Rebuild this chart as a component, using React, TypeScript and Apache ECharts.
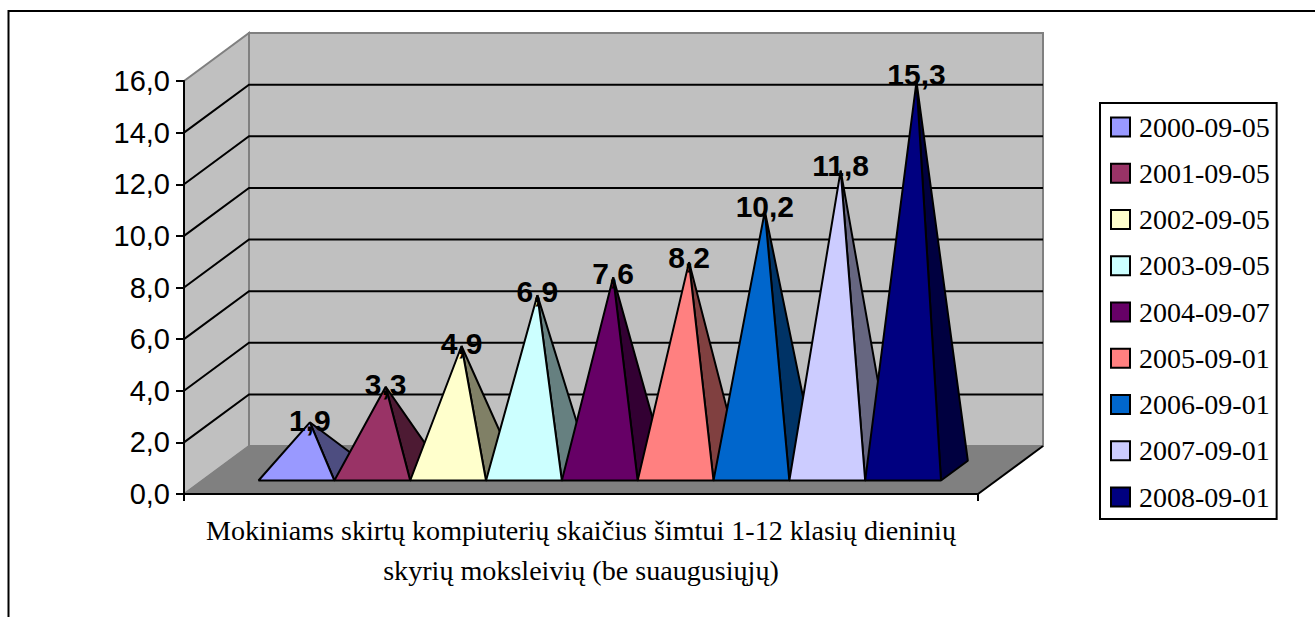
import React, { useEffect, useRef } from "react";
import * as echarts from "echarts";

const categoryLabel =
  "Mokiniams skirtų kompiuterių skaičius šimtui 1-12 klasių dieninių\nskyrių moksleivių (be suaugusiųjų)";
const dates = [
  "2000-09-05", "2001-09-05", "2002-09-05", "2003-09-05", "2004-09-07",
  "2005-09-01", "2006-09-01", "2007-09-01", "2008-09-01",
];
const values = [1.9, 3.3, 4.9, 6.9, 7.6, 8.2, 10.2, 11.8, 15.3];
const colors = [
  "#9999FF", "#993366", "#FFFFCC", "#CCFFFF", "#660066",
  "#FF8080", "#0066CC", "#CCCCFF", "#000080",
];
const sideColors = [
  "#4D4D80", "#4D1A33", "#808066", "#668080", "#330033",
  "#804040", "#003366", "#666680", "#000040",
];
const yTicks = [0, 2, 4, 6, 8, 10, 12, 14, 16];

const DX = 65;
const DY = -48;
const SERIF = "Liberation Serif";
const SANS = "Liberation Sans";

function wallsItem(_p: any, api: any) {
  const band = api.size([1, 0])[0];
  const cx = api.coord([0, 0])[0];
  const xL = cx - band / 2;
  const xR = cx + band / 2;
  const y = (v: number) => api.coord([0, v])[1];
  const y0 = y(0);
  const yT = y(16);
  const children: any[] = [
    {
      type: "polygon",
      shape: { points: [[xL, yT], [xL + DX, yT + DY], [xL + DX, y0 + DY], [xL, y0]] },
      style: { fill: "#C0C0C0", stroke: "#808080", lineWidth: 2 },
    },
    {
      type: "polygon",
      shape: { points: [[xL + DX, yT + DY], [xR + DX, yT + DY], [xR + DX, y0 + DY], [xL + DX, y0 + DY]] },
      style: { fill: "#C0C0C0", stroke: "#808080", lineWidth: 2 },
    },
    {
      type: "polygon",
      shape: { points: [[xL, y0], [xL + DX, y0 + DY], [xR + DX, y0 + DY], [xR, y0]] },
      style: { fill: "#808080", stroke: "#808080", lineWidth: 1 },
    },
    {
      type: "line",
      shape: { x1: xR, y1: y0, x2: xR + DX, y2: y0 + DY },
      style: { stroke: "#000", lineWidth: 2 },
    },
  ];
  yTicks.slice(1, -1).forEach((t) => {
    const yy = y(t);
    children.push({
      type: "polyline",
      shape: { points: [[xL, yy], [xL + DX, yy + DY], [xR + DX, yy + DY]] },
      style: { stroke: "#000", lineWidth: 2, fill: "none" },
    });
  });
  return { type: "group", children };
}

function pyramidItem(i: number) {
  return (_p: any, api: any) => {
    const band = api.size([1, 0])[0];
    const cx = api.coord([0, 0])[0];
    const xL = cx - band / 2;
    const y0 = api.coord([0, 0])[1];
    const yV = api.coord([0, api.value(1)])[1];
    const w = band * 0.0955;
    const d0 = 0.281;
    const d1 = 0.694;
    const dm = (d0 + d1) / 2;
    const start = xL + (band - 9 * w) / 2 + 0.5;
    const fl = start + i * w + d0 * DX;
    const fr = fl + w;
    const fy = y0 + d0 * DY;
    const br = start + (i + 1) * w + d1 * DX;
    const by = y0 + d1 * DY;
    const ax = start + (i + 0.5) * w + dm * DX;
    const baseMid = y0 + dm * DY;
    const ay = baseMid + (yV - y0) * 0.985;
    const stroke = { stroke: "#000", lineWidth: 2, lineJoin: "bevel" };
    return {
      type: "group",
      children: [
        {
          type: "polygon",
          shape: { points: [[fr, fy], [br, by], [ax, ay]] },
          style: { fill: sideColors[i], ...stroke },
        },
        {
          type: "polygon",
          shape: { points: [[fl, fy], [fr, fy], [ax, ay]] },
          style: { fill: colors[i], ...stroke },
        },
        {
          type: "text",
          z2: 100,
          x: ax,
          y: baseMid + (yV - y0) - 1,
          style: {
            text: String(api.value(1)).replace(".", ","),
            fill: "#000",
            font: `bold 30px "${SANS}"`,
            align: "center",
            verticalAlign: "middle",
          },
        },
      ],
    };
  };
}

export default function App() {
  const ref = useRef<HTMLDivElement>(null);
  useEffect(() => {
    const chart = echarts.init(ref.current!, null, { renderer: "svg" });
    chart.setOption({
      animation: false,
      backgroundColor: "#fff",
      grid: { left: 184, top: 81, width: 794, height: 413, containLabel: false },
      xAxis: {
        type: "category",
        data: [categoryLabel],
        z: 3,
        axisLine: { show: true, lineStyle: { color: "#000", width: 2 } },
        axisTick: { show: true, length: 7, lineStyle: { color: "#000", width: 2 } },
        axisLabel: {
          interval: 0,
          margin: 16,
          color: "#000",
          fontFamily: SERIF,
          fontSize: 28.1,
          lineHeight: 40,
          align: "center",
        },
      },
      yAxis: {
        type: "value",
        min: 0,
        max: 16,
        interval: 2,
        z: 3,
        splitLine: { show: false },
        axisLine: { show: true, lineStyle: { color: "#000", width: 2 } },
        axisTick: { show: true, length: 8, lineStyle: { color: "#000", width: 2 } },
        axisLabel: {
          margin: 14,
          color: "#000",
          fontFamily: SANS,
          fontSize: 29,
          formatter: (v: number) => v.toFixed(1).replace(".", ","),
        },
      },
      legend: {
        orient: "vertical",
        left: 1100,
        top: 103,
        padding: [10, 7, 8, 10],
        itemGap: 18.25,
        itemWidth: 19,
        itemHeight: 19,
        icon: "rect",
        backgroundColor: "#fff",
        borderColor: "#000",
        borderWidth: 2,
        data: dates,
        selectedMode: false,
        itemStyle: { borderColor: "#000", borderWidth: 2 },
        textStyle: { color: "#000", fontFamily: SERIF, fontSize: 28, padding: [0, 0, 0, 4] },
      },
      graphic: [
        {
          type: "polyline",
          silent: true,
          shape: { points: [[8.5, 617], [8.5, 11], [1315, 11]] },
          style: { stroke: "#000", lineWidth: 2, fill: "none" },
        },
      ],
      series: [
        {
          type: "custom",
          z: 1,
          silent: true,
          clip: false,
          renderItem: wallsItem,
          data: [[0, 0]],
          encode: { x: 0, y: 1 },
        },
        ...dates.map((name, i) => ({
          type: "custom",
          name,
          z: 4,
          clip: false,
          silent: true,
          itemStyle: { color: colors[i] },
          renderItem: pyramidItem(i),
          data: [[0, values[i]]],
          encode: { x: 0, y: 1 },
        })),
      ],
    });
    return () => chart.dispose();
  }, []);
  return (
    <div
      ref={ref}
      style={{ position: "fixed", left: 0, top: 0, width: 1315, height: 617 }}
    />
  );
}
